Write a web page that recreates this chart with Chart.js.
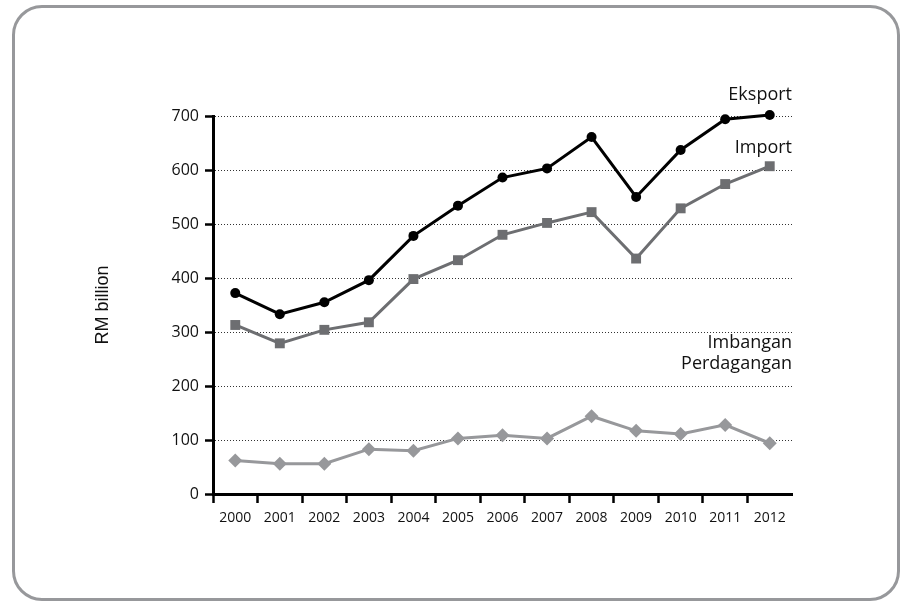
<!DOCTYPE html>
<html lang="ms">
  <head>
    <meta charset="UTF-8" />
    <title>Eksport, Import dan Imbangan Perdagangan</title>
    <script src="https://cdn.jsdelivr.net/npm/chart.js"></script>
    <style>
      body { margin: 0; background: #fff; }
      .wrap { position: relative; width: 906px; height: 602px; }
      .box {
        position: absolute; left: 12px; top: 5px; width: 888px; height: 596px;
        box-sizing: border-box; border: 3px solid #97989b; border-radius: 30px;
      }
      canvas { position: absolute; left: 0; top: 0; }
    </style>
  </head>
  <body>
    <div class="wrap">
      <div class="box"></div>
      <canvas id="tradeChart" width="906" height="602"></canvas>
    </div>

    <script>
      // Data (RM billion)
      const years = ["2000", "2001", "2002", "2003", "2004", "2005", "2006", "2007", "2008", "2009", "2010", "2011", "2012"];
      const eksport = [372, 333, 355, 396, 478, 534, 586, 603, 661, 550, 637, 694, 702];
      const importVals = [313, 279, 304, 318, 398, 433, 480, 502, 522, 436, 529, 574, 607];
      const imbangan = [62, 56, 56, 83, 80, 103, 109, 103, 144, 117, 111, 128, 94];
      const yTicks = [0, 100, 200, 300, 400, 500, 600, 700];

      const labelFont = "'Open Sans', 'DejaVu Sans', sans-serif";

      // label nama siri di sebelah kanan
      const seriesLabels = {
        id: "seriesLabels",
        afterDraw(chart) {
          const { ctx, chartArea } = chart;
          ctx.save();
          ctx.fillStyle = "#111";
          ctx.font = "18px " + labelFont;
          ctx.textAlign = "right";
          ctx.textBaseline = "alphabetic";
          const x = chartArea.right;
          ctx.fillText("Eksport", x, 100);
          ctx.fillText("Import", x, 153);
          ctx.fillText("Imbangan", x, 348);
          ctx.fillText("Perdagangan", x, 369);
          ctx.restore();
        },
      };

      new Chart(document.getElementById("tradeChart").getContext("2d"), {
        type: "line",
        data: {
          labels: years,
          datasets: [
            {
              label: "Eksport",
              data: eksport,
              borderColor: "#000",
              backgroundColor: "#000",
              borderWidth: 3,
              pointStyle: "circle",
              pointRadius: 5,
              pointBorderWidth: 0,
              clip: false,
            },
            {
              label: "Import",
              data: importVals,
              borderColor: "#6d6e71",
              backgroundColor: "#6d6e71",
              borderWidth: 3,
              pointStyle: "rect",
              pointRadius: 7,
              pointBorderWidth: 0,
              clip: false,
            },
            {
              label: "Imbangan Perdagangan",
              data: imbangan,
              borderColor: "#97989b",
              backgroundColor: "#97989b",
              borderWidth: 3,
              pointStyle: "rectRot",
              pointRadius: 7,
              pointBorderWidth: 0,
              clip: false,
            },
          ],
        },
        options: {
          responsive: false,
          animation: false,
          layout: { padding: { left: 60, top: 116, right: 114, bottom: 68 } },
          plugins: {
            legend: { display: false },
            tooltip: { enabled: false },
          },
          scales: {
            x: {
              offset: true,
              afterFit(scale) { scale.height = 40; },
              grid: {
                offset: true,
                drawOnChartArea: false,
                tickLength: 9,
                tickWidth: 2.5,
                tickColor: (c) => (c.type === "tick" ? "#000" : "rgba(0,0,0,0)"),
              },
              border: { color: "#000", width: 3 },
              ticks: {
                color: "#111",
                padding: 7,
                maxRotation: 0,
                font: { family: labelFont, size: 14 },
              },
            },
            y: {
              min: 0,
              max: 700,
              afterFit(scale) { scale.width = 153; },
              afterBuildTicks(scale) { scale.ticks = yTicks.map((v) => ({ value: v })); },
              grid: {
                color: "#333",
                lineWidth: 1,
                tickLength: 8,
                tickColor: "#000",
                tickWidth: 2.5,
                tickBorderDash: [],
              },
              border: { color: "#000", width: 3, dash: [1, 2] },
              ticks: {
                color: "#111",
                padding: 6,
                font: { family: labelFont, size: 16 },
              },
              title: {
                display: true,
                text: "RM billion",
                color: "#111",
                padding: { top: 32, bottom: 0 },
                font: { family: "'Liberation Sans', Arial, sans-serif", size: 18 },
              },
            },
          },
        },
        plugins: [seriesLabels],
      });
    </script>
  </body>
</html>
